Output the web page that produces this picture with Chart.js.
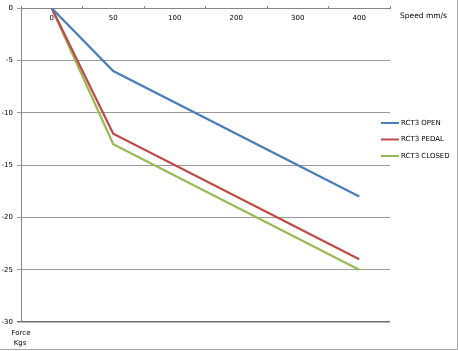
<!DOCTYPE html>
<html>
<head>
<meta charset="utf-8">
<script src="https://cdn.jsdelivr.net/npm/chart.js@4"></script>
<style>
html,body{margin:0;padding:0;background:#fff;}
#wrap{width:458px;height:351px;}
</style>
</head>
<body>
<div id="wrap"><canvas id="c" width="458" height="351"></canvas></div>
<script>
const categories = ['0', '50', '100', '200', '300', '400'];
const rct3Open   = [0, -6,  null, null, null, -18];
const rct3Pedal  = [0, -12, null, null, null, -24];
const rct3Closed = [0, -13, null, null, null, -25];
const seriesNames = ['RCT3 OPEN', 'RCT3 PEDAL', 'RCT3 CLOSED'];
const seriesColors = ['#4A7EBB', '#BE4B48', '#98B954'];
const xTitle = 'Speed mm/s';
const yTitle = ['Force', 'Kgs'];

const FONT = 'DejaVu Sans';

const extras = {
  id: 'extras',
  afterDraw(chart) {
    const ctx = chart.ctx;
    const area = chart.chartArea;
    ctx.save();
    // legend
    ctx.font = '7px "' + FONT + '"';
    ctx.textBaseline = 'middle';
    ctx.textAlign = 'left';
    const ly = [123, 139.5, 156];
    chart.data.datasets.forEach((ds, i) => {
      ctx.strokeStyle = ds.borderColor;
      ctx.lineWidth = 2;
      ctx.beginPath();
      ctx.moveTo(381, ly[i]);
      ctx.lineTo(399, ly[i]);
      ctx.stroke();
      ctx.fillStyle = '#000';
      ctx.fillText(ds.label, 401, ly[i]);
    });
    // axis titles
    ctx.font = '7.5px "' + FONT + '"';
    ctx.fillText(xTitle, 400, 16);
    ctx.textAlign = 'center';
    ctx.font = '7px "' + FONT + '"';
    ctx.fillText(yTitle[0], 21, 333);
    ctx.fillText(yTitle[1], 20, 343.5);
    // outer frame
    ctx.strokeStyle = '#a6a6a6';
    ctx.lineWidth = 1;
    ctx.beginPath();
    ctx.moveTo(0, 349.5);
    ctx.lineTo(457.5, 349.5);
    ctx.lineTo(457.5, 0);
    ctx.stroke();
    ctx.restore();
  }
};

const datasets = [rct3Open, rct3Pedal, rct3Closed].map((d, i) => ({
  label: seriesNames[i],
  data: d,
  borderColor: seriesColors[i],
  backgroundColor: seriesColors[i],
  borderWidth: 2.25,
  pointRadius: 0,
  pointHoverRadius: 0,
  tension: 0,
  spanGaps: true,
  fill: false
}));

new Chart(document.getElementById('c'), {
  type: 'line',
  data: { labels: categories, datasets: datasets },
  plugins: [extras],
  options: {
    responsive: false,
    animation: false,
    devicePixelRatio: 1,
    layout: { padding: { top: 5, left: 0, right: 68, bottom: 29 } },
    plugins: { legend: { display: false }, tooltip: { enabled: false } },
    scales: {
      x: {
        type: 'category',
        position: { y: 0 },
        offset: true,
        grid: {
          offset: true,
          drawOnChartArea: false,
          drawTicks: true,
          tickLength: -3,
          color: '#868686'
        },
        border: { display: true, color: '#868686', width: 1 },
        ticks: {
          padding: 9,
          maxRotation: 0,
          autoSkip: false,
          color: '#000',
          font: { family: FONT, size: 7 }
        }
      },
      y: {
        min: -30,
        max: 0,
        afterFit(scale) { scale.width = 21; },
        grid: {
          color: (c) => (c.tick && c.tick.value === -30 ? '#6e6e6e' : '#9a9a9a'),
          lineWidth: (c) => (c.tick && c.tick.value === -30 ? 1.5 : 1),
          tickLength: 4
        },
        border: { display: true, color: '#868686', width: 1 },
        ticks: {
          stepSize: 5,
          padding: 4,
          color: '#000',
          font: { family: FONT, size: 7 }
        }
      }
    }
  }
});
</script>
</body>
</html>
